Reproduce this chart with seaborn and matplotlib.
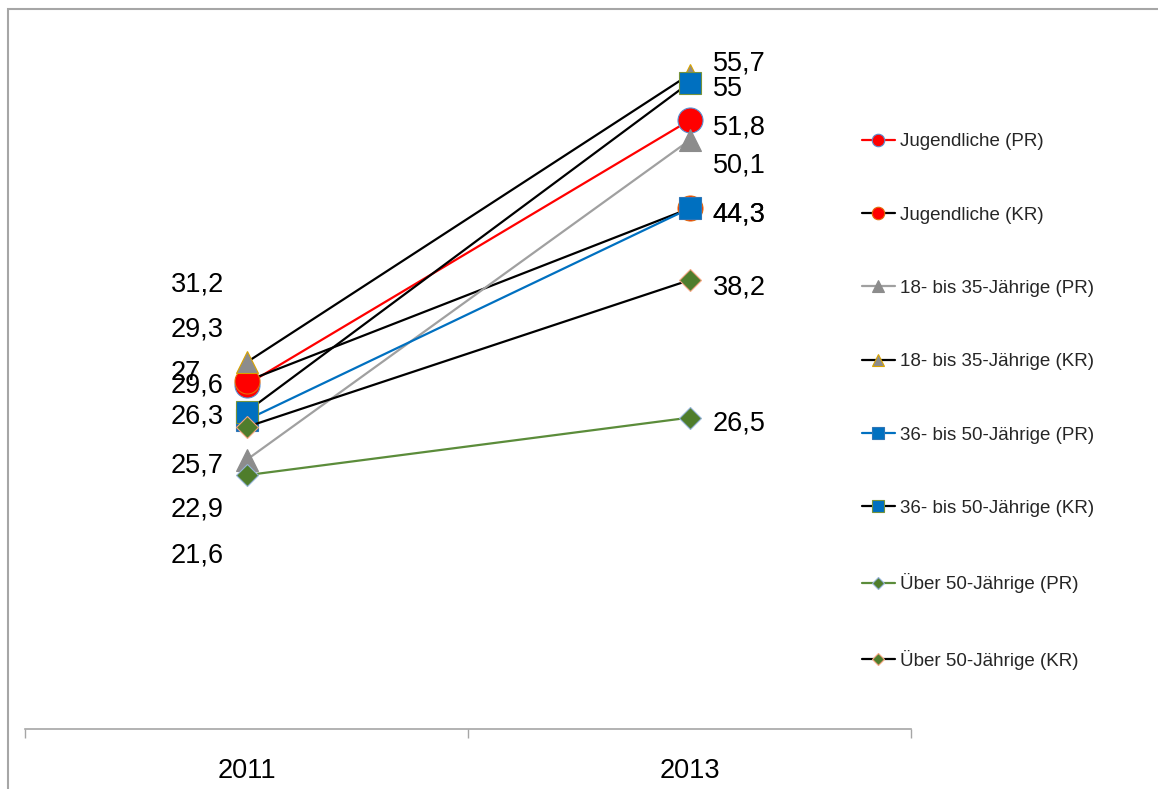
import matplotlib
matplotlib.use("Agg")
import matplotlib.pyplot as plt
from matplotlib.patches import Rectangle
import seaborn as sns
import pandas as pd

# ---------------- data ----------------
years = ["2011", "2013"]
series_names = [
    "Jugendliche (PR)",
    "Jugendliche (KR)",
    "18- bis 35-Jährige (PR)",
    "18- bis 35-Jährige (KR)",
    "36- bis 50-Jährige (PR)",
    "36- bis 50-Jährige (KR)",
    "Über 50-Jährige (PR)",
    "Über 50-Jährige (KR)",
]
jug_pr = [29.3, 51.8]
jug_kr = [29.6, 44.3]
j18_pr = [22.9, 50.1]
j18_kr = [31.2, 55.7]
j36_pr = [26.3, 44.3]
j36_kr = [27.0, 55.0]
u50_pr = [21.6, 26.5]
u50_kr = [25.7, 38.2]
values = [jug_pr, jug_kr, j18_pr, j18_kr, j36_pr, j36_kr, u50_pr, u50_kr]

# ---------------- styles ----------------
line_colors = ["#ff0000", "#000000", "#a0a0a0", "#000000",
               "#0070c0", "#000000", "#5b8c3a", "#000000"]
markers = ["o", "o", "^", "^", "s", "s", "D", "D"]
marker_sizes = [18, 18, 16.5, 16.5, 16.5, 16.5, 10.7, 10.7]
face_colors = ["#ff0000", "#ff0000", "#8c8c8c", "#8c8c8c",
               "#0070c0", "#0070c0", "#4f7d2c", "#4f7d2c"]
edge_colors = ["#5b8fd0", "#e46c0a", "#8c8c8c", "#d9a300",
               "#2e75b6", "#77933c", "#95b3d7", "#f4a582"]
legend_marker_sizes = [9, 9, 9, 9, 8.5, 8.5, 6.5, 6.5]

# label offsets in pixels (dx, dy downward) for 2011 and 2013 labels
left_dx = -76
right_dx = 23
left_dy = [-58.6, 1, 47, -81, -6, -42, 77, 35]
right_dy = [4, 3, 22, -14, 3, 3.5, 2.5, 4]

W, H, DPI = 1158, 789, 100
sns.set_theme(style="white")
plt.rcParams["font.family"] = ["Liberation Sans", "DejaVu Sans"]

fig = plt.figure(figsize=(W / DPI, H / DPI), dpi=DPI)
ax = fig.add_axes([25 / W, 1 - 729 / H, (911 - 25) / W, (729 - 24) / H])

for name, vals, lc, m, ms, fc, ec in zip(series_names, values, line_colors,
                                         markers, marker_sizes, face_colors, edge_colors):
    df = pd.DataFrame({"Jahr": years, "Wert": vals})
    sns.lineplot(data=df, x="Jahr", y="Wert", ax=ax, color=lc, linewidth=1.6,
                 marker=m, markersize=ms, markerfacecolor=fc, markeredgecolor=ec,
                 markeredgewidth=0.8, label=name, legend=False, sort=False)

fs_lab = 19.5
for vals, dyl, dyr in zip(values, left_dy, right_dy):
    ax.annotate(f"{vals[0]:g}".replace(".", ","), xy=(0, vals[0]),
                xytext=(left_dx, -(dyl + 3)), textcoords="offset pixels",
                ha="left", va="center", fontsize=fs_lab, color="black", zorder=20)
    ax.annotate(f"{vals[1]:g}".replace(".", ","), xy=(1, vals[1]),
                xytext=(right_dx, -(dyr + 3)), textcoords="offset pixels",
                ha="left", va="center", fontsize=fs_lab, color="black", zorder=20)

ax.set_xlim(-0.5, 1.5)
ax.set_ylim(0, 60)
ax.set_xlabel("")
ax.set_ylabel("")
ax.set_yticks([])
ax.set_xticks([0, 1])
ax.set_xticklabels(years, fontsize=19.5)
ax.set_xticks([-0.5, 0.5, 1.5], minor=True)
ax.tick_params(axis="x", which="major", length=0, pad=21, colors="black")
ax.tick_params(axis="x", which="minor", length=6.5, width=1, color="#a6a6a6",
               direction="out", bottom=True)
for s in ["top", "right", "left"]:
    ax.spines[s].set_visible(False)
ax.spines["bottom"].set_color("#a6a6a6")
ax.spines["bottom"].set_linewidth(1.2)
ax.patch.set_alpha(0)

handles, labels = ax.get_legend_handles_labels()
leg = ax.legend(handles, labels, loc="upper left",
                bbox_to_anchor=(862 / W, 1 - 133 / H),
                bbox_transform=fig.transFigure, frameon=False,
                fontsize=13.5, handlelength=1.75, handletextpad=0.26,
                labelspacing=3.0, borderpad=0, borderaxespad=0)
for ln, lms in zip(leg.get_lines(), legend_marker_sizes):
    ln.set_markersize(lms)
    ln.set_linewidth(1.6)

# chart area border
fig.patches.append(Rectangle((8 / W, -0.1), 1.2, 1.1 - 9 / H, transform=fig.transFigure,
                             fill=False, edgecolor="#a6a6a6", linewidth=1.5))

fig.savefig("out.png", dpi=DPI)
